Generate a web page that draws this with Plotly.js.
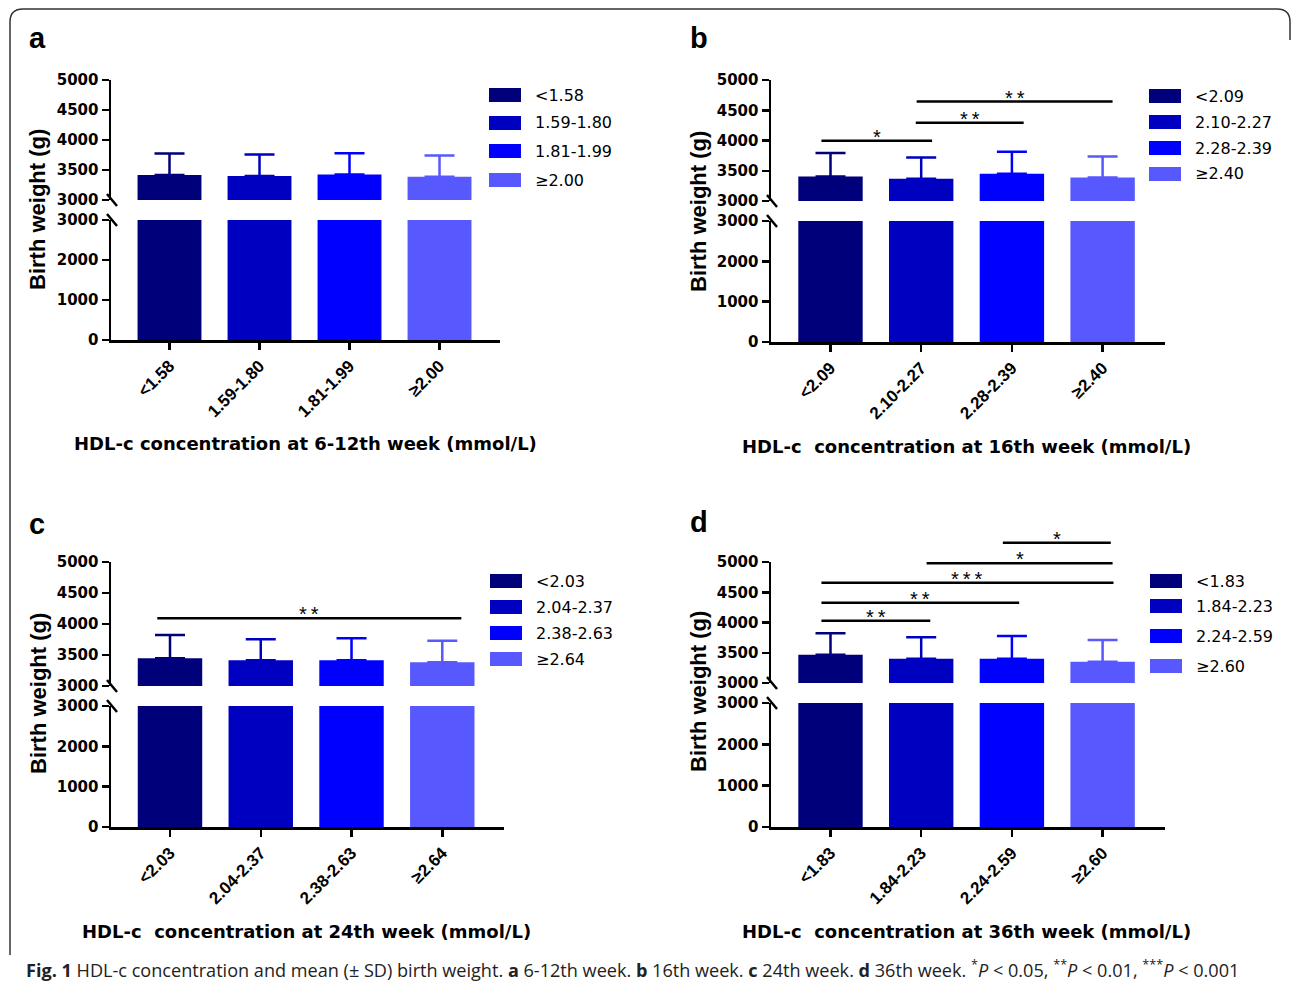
<!DOCTYPE html>
<html><head><meta charset="utf-8">
<script src="https://cdn.plot.ly/plotly-3.0.1.min.js"></script>
<style>html,body{margin:0;padding:0;background:#fff}</style>
</head><body><div id="chart" style="width:1292px;height:987px"></div>
<script>
// ---------------- DATA ----------------
const catsA = ['<1.58', '1.59-1.80', '1.81-1.99', '≥2.00'];
const meanA = [3417, 3400, 3425, 3387];
const sdA   = [360, 360, 355, 355];

const catsB = ['<2.09', '2.10-2.27', '2.28-2.39', '≥2.40'];
const meanB = [3406, 3368, 3450, 3390];
const sdB   = [386, 352, 363, 347];

const catsC = ['<2.03', '2.04-2.37', '2.38-2.63', '≥2.64'];
const meanC = [3447, 3415, 3415, 3382];
const sdC   = [376, 338, 354, 349];

const catsD = ['<1.83', '1.84-2.23', '2.24-2.59', '≥2.60'];
const meanD = [3468, 3402, 3402, 3352];
const sdD   = [353, 353, 375, 359];

// significance brackets: [from category index, to category index, level (g), stars]
const sigA = [];
const sigB = [[-0.1, 1.12, 3995, '*'], [0.94, 2.13, 4292, '**'], [0.95, 3.11, 4644, '**']];
const sigC = [[-0.14, 3.21, 4092, '**']];
const sigD = [[-0.1, 1.1, 4030, '**'], [-0.1, 2.08, 4327, '**'], [-0.1, 3.12, 4658, '***'],
              [1.06, 3.11, 4978, '*'], [1.9, 3.09, 5319, '*']];

const xTitles = ['HDL-c concentration at 6-12th week (mmol/L)',
                 'HDL-c\u00a0 concentration at 16th week (mmol/L)',
                 'HDL-c\u00a0 concentration at 24th week (mmol/L)',
                 'HDL-c\u00a0 concentration at 36th week (mmol/L)'];
const letters = ['a', 'b', 'c', 'd'];
const yTitle = 'Birth weight (g)';
const bottomTicks = [0, 1000, 2000, 3000];
const topTicks = [3000, 3500, 4000, 4500, 5000];
const BOTTOM_RANGE = [0, 3000];
const TOP_RANGE = [3000, 5000];

// ---------------- STYLE / LAYOUT GEOMETRY ----------------
const colors = ['#00007a', '#0000c0', '#0000ff', '#5858ff'];
const W = 1292, H = 987;
const px = v => v / W;
const py = v => 1 - v / H;
const FONT = '"Liberation Sans", Arial, sans-serif';
const WIDE = '"DejaVu Sans", sans-serif';

const panels = [
  {cats: catsA, mean: meanA, sd: sdA, sig: sigA, xd: [111, 500], bot: [220, 340], top: [80, 200], xr: [-0.65, 3.672],
   letterPos: [27, 38], ytPos: [38, 210], xtPos: [305, 443], leg: {x: 489, rows: [95, 123, 151, 180]}},
  {cats: catsB, mean: meanB, sd: sdB, sig: sigB, xd: [771, 1165], bot: [221, 342], top: [80, 201], xr: [-0.656, 3.688],
   letterPos: [688, 38], ytPos: [698, 212], xtPos: [966, 446], leg: {x: 1149, rows: [96, 122, 148, 174]}},
  {cats: catsC, mean: meanC, sd: sdC, sig: sigC, xd: [111, 504], bot: [706, 827], top: [562, 686], xr: [-0.65, 3.68],
   letterPos: [27, 524], ytPos: [38, 694], xtPos: [306, 931], leg: {x: 490, rows: [581, 607, 633, 659]}},
  {cats: catsD, mean: meanD, sd: sdD, sig: sigD, xd: [771, 1165], bot: [703, 827], top: [562, 683], xr: [-0.656, 3.688],
   letterPos: [688, 522], ytPos: [698, 692], xtPos: [966, 931], leg: {x: 1150, rows: [581, 606, 636, 666]}}
];

const data = [];
const layout = {
  width: W, height: H, margin: {l: 0, r: 0, t: 0, b: 0},
  paper_bgcolor: '#fff', plot_bgcolor: 'rgba(0,0,0,0)',
  showlegend: false, barmode: 'overlay', font: {family: FONT, color: '#000'},
  shapes: [], annotations: []
};

const axisLine = {showline: true, linecolor: '#000', linewidth: 2.5, ticks: 'outside', ticklen: 7,
                  tickwidth: 2.5, tickcolor: '#000', showgrid: false, zeroline: false, fixedrange: true};

panels.forEach((p, k) => {
  const xid = k === 0 ? 'x' : 'x' + (k + 1);
  const yb = 2 * k + 1, yt = 2 * k + 2;
  const ybid = yb === 1 ? 'y' : 'y' + yb;
  const ytid = 'y' + yt;
  const xKey = 'xaxis' + (k === 0 ? '' : k + 1);
  const ybKey = 'yaxis' + (yb === 1 ? '' : yb);
  const ytKey = 'yaxis' + yt;

  layout[xKey] = Object.assign({}, axisLine, {
    domain: [px(p.xd[0]), px(p.xd[1])], anchor: ybid, type: 'category',
    categoryorder: 'array', categoryarray: p.cats, range: p.xr,
    tickangle: -45, tickfont: {family: FONT, size: 17, weight: 'bold', color: '#000'}
  });
  layout[ybKey] = Object.assign({}, axisLine, {
    domain: [py(p.bot[1]), py(p.bot[0])], anchor: xid, range: BOTTOM_RANGE,
    tickmode: 'array', tickvals: bottomTicks, ticktext: bottomTicks.map(String),
    tickfont: {family: WIDE, size: 15, weight: 'bold', color: '#000'}
  });
  layout[ytKey] = Object.assign({}, axisLine, {
    domain: [py(p.top[1]), py(p.top[0])], anchor: xid, range: TOP_RANGE,
    tickmode: 'array', tickvals: topTicks, ticktext: topTicks.map(String),
    tickfont: {family: WIDE, size: 15, weight: 'bold', color: '#000'}
  });

  p.cats.forEach((c, i) => {
    data.push({type: 'bar', x: [c], y: [p.mean[i]], xaxis: xid, yaxis: ybid, width: 0.71,
               marker: {color: colors[i], line: {width: 0}}, hoverinfo: 'x+y', name: c});
    data.push({type: 'bar', x: [c], y: [p.mean[i]], xaxis: xid, yaxis: ytid, width: 0.71,
               marker: {color: colors[i], line: {width: 0}}, hoverinfo: 'x+y', name: c,
               error_y: {type: 'data', array: [p.sd[i]], arrayminus: [0], symmetric: false,
                         color: colors[i], thickness: 2.5, width: 15}});
  });

  // axis break marks
  [[ytid, 0], [ybid, 1]].forEach(([yy, anc]) => {
    layout.shapes.push({type: 'line', xref: xid + ' domain', yref: yy + ' domain',
      xsizemode: 'pixel', ysizemode: 'pixel', xanchor: 0, yanchor: anc,
      x0: -4, x1: 6, y0: 6, y1: -6, line: {color: '#000', width: 2.5}});
  });

  // significance brackets
  const span = TOP_RANGE[1] - TOP_RANGE[0];
  p.sig.forEach(s => {
    const f = (s[2] - TOP_RANGE[0]) / span;
    layout.shapes.push({type: 'line', xref: xid, yref: ytid + ' domain', x0: s[0], x1: s[1], y0: f, y1: f,
                        line: {color: '#000', width: 2.5}});
    layout.annotations.push({xref: xid, yref: ytid + ' domain', x: (s[0] + s[1]) / 2, y: f,
      text: s[3].split('').join('\u2009'), showarrow: false, yanchor: 'bottom', yshift: -9,
      font: {family: FONT, size: 20, color: '#000'}});
  });

  // legend (manual, wide keys)
  p.cats.forEach((c, i) => {
    const r = p.leg.rows[i];
    layout.shapes.push({type: 'rect', xref: 'paper', yref: 'paper',
      x0: px(p.leg.x), x1: px(p.leg.x + 32), y0: py(r + 7), y1: py(r - 7),
      fillcolor: colors[i], line: {width: 0}});
    layout.annotations.push({xref: 'paper', yref: 'paper', x: px(p.leg.x + 44), y: py(r),
      xanchor: 'left', yanchor: 'middle', text: c, showarrow: false,
      font: {family: WIDE, size: 16, color: '#000'}});
  });

  // panel letter
  layout.annotations.push({xref: 'paper', yref: 'paper', x: px(p.letterPos[0]), y: py(p.letterPos[1]),
    xanchor: 'left', yanchor: 'middle', text: '<b>' + letters[k] + '</b>', showarrow: false,
    font: {family: FONT, size: 29, color: '#000'}});
  // y title
  layout.annotations.push({xref: 'paper', yref: 'paper', x: px(p.ytPos[0]), y: py(p.ytPos[1]),
    xanchor: 'center', yanchor: 'middle', textangle: -90, text: '<b>' + yTitle + '</b>', showarrow: false,
    font: {family: FONT, size: 22, color: '#000'}});
  // x title
  layout.annotations.push({xref: 'paper', yref: 'paper', x: px(p.xtPos[0]), y: py(p.xtPos[1]),
    xanchor: 'center', yanchor: 'middle', text: '<b>' + xTitles[k] + '</b>', showarrow: false,
    font: {family: WIDE, size: 18, color: '#000'}});
});

// caption
layout.annotations.push({xref: 'paper', yref: 'paper', x: px(24), y: py(968), xanchor: 'left', yanchor: 'middle',
  showarrow: false, font: {family: 'Open Sans, sans-serif', size: 18.1, color: '#222'},
  text: '<b>Fig. 1</b> HDL-c concentration and mean (± SD) birth weight. <b>a</b> 6-12th week. <b>b</b> 16th week. ' +
        '<b>c</b> 24th week. <b>d</b> 36th week. <sup>*</sup><i>P</i> &lt; 0.05, <sup>**</sup><i>P</i> &lt; 0.01, ' +
        '<sup>***</sup><i>P</i> &lt; 0.001'});

// figure frame (rounded corners)
const fp = (x, y) => px(x) + ',' + py(y);
layout.shapes.push({type: 'path', xref: 'paper', yref: 'paper', line: {color: '#333', width: 1.5},
  path: 'M' + fp(10, 955) + ' L' + fp(10, 22) + ' Q' + fp(10, 9) + ' ' + fp(23, 9) +
        ' L' + fp(1277, 9) + ' Q' + fp(1290, 9) + ' ' + fp(1290, 22) + ' L' + fp(1290, 40)});

Plotly.newPlot('chart', data, layout, {staticPlot: true});
</script></body></html>
